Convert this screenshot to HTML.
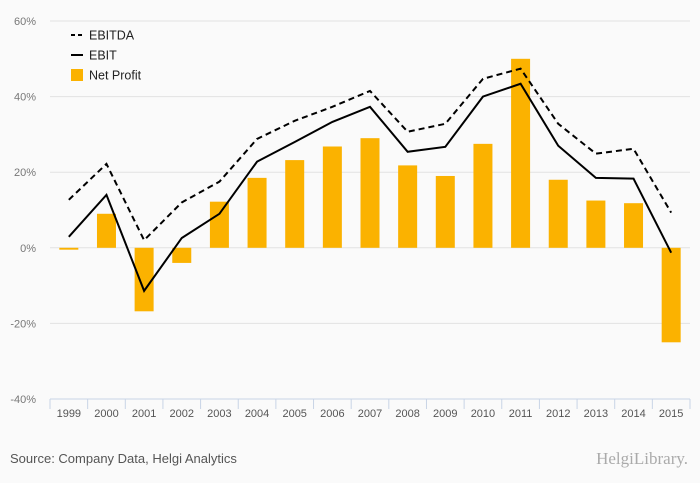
<!DOCTYPE html>
<html><head><meta charset="utf-8"><style>
body{margin:0;background:#fafafa;font-family:"Liberation Sans",sans-serif;}
svg{display:block}
</style></head><body>
<svg id="c" width="700" height="483">
<rect width="700" height="483" fill="#fafafa"/>
<text x="10" y="463" font-size="13" fill="#555">Source: Company Data, Helgi Analytics</text>
<text x="688" y="464" font-size="17" fill="#aaa" text-anchor="end" font-family="Liberation Serif,serif">HelgiLibrary.</text>
</svg>
<script>
const years=["1999","2000","2001","2002","2003","2004","2005","2006","2007","2008","2009","2010","2011","2012","2013","2014","2015"];
const netProfit=[-0.5,9,-16.8,-4,12.2,18.5,23.2,26.8,29,21.8,19,27.5,50,18,12.5,11.8,-25];
const ebitda=[12.7,22.2,2,12,17.5,28.8,33.6,37.3,41.5,30.7,32.8,44.7,47.4,32.8,24.9,26.2,9.3];
const ebit=[2.9,14,-11.4,2.6,9,22.8,28,33.3,37.3,25.4,26.7,40,43.4,27,18.5,18.3,-1.3];
const yTicks=[-40,-20,0,20,40,60];
const NS="http://www.w3.org/2000/svg",svg=document.getElementById('c');
const L=50,R=690,T=21,B=399;
const y=v=>B-(v+40)/100*(B-T);
const step=(R-L)/years.length;
const x=i=>L+step*(i+0.5);
function el(t,a,p){const e=document.createElementNS(NS,t);for(const k in a)e.setAttribute(k,a[k]);(p||svg).appendChild(e);return e;}
yTicks.forEach(v=>{
 if(v>-40){const g=el('line',{x1:L,x2:R,y1:y(v),y2:y(v),stroke:'#e2e2e2'});
 
 }
 const t=el('text',{x:36,y:y(v)+4,'font-size':11,fill:'#777','text-anchor':'end'});t.textContent=v+'%';
 
 
});
const ax=el('line',{x1:L,x2:R,y1:B,y2:B,stroke:'#c8d4e6'});


for(let i=0;i<=years.length;i++){const tk=el('line',{x1:L+step*i,x2:L+step*i,y1:B,y2:B+10,stroke:'#c8d4e6'});

}
years.forEach((yr,i)=>{const t=el('text',{x:x(i),y:417,'font-size':11,fill:'#555','text-anchor':'middle'});t.textContent=yr;

});
netProfit.forEach((v,i)=>{const r=el('rect',{x:x(i)-9.5,width:19,y:Math.min(y(v),y(0)),height:Math.abs(y(v)-y(0)),fill:'#fbb200'});

});
function line(d,dash,name){const p=el('path',{d:d.map((v,i)=>(i?'L':'M')+x(i)+','+y(v)).join(''),fill:'none',stroke:'#000','stroke-width':2,'stroke-dasharray':dash});

}
line(ebitda,'6,4','line-ebitda');line(ebit,'none','line-ebit');
const lg=[['EBITDA','dash'],['EBIT','solid'],['Net Profit','box']];
lg.forEach((e,i)=>{const yy=35+i*20;
 if(e[1]=='box')el('rect',{x:71,y:yy-6,width:12,height:12,fill:'#fbb200'});
 else el('line',{x1:71,x2:83,y1:yy,y2:yy,stroke:'#000','stroke-width':2,'stroke-dasharray':e[1]=='dash'?'4,3':'none'});
 const t=el('text',{x:89,y:yy+4.5,'font-size':12.5,fill:'#222'});t.textContent=e[0];
 
 });
</script>
</body></html>
